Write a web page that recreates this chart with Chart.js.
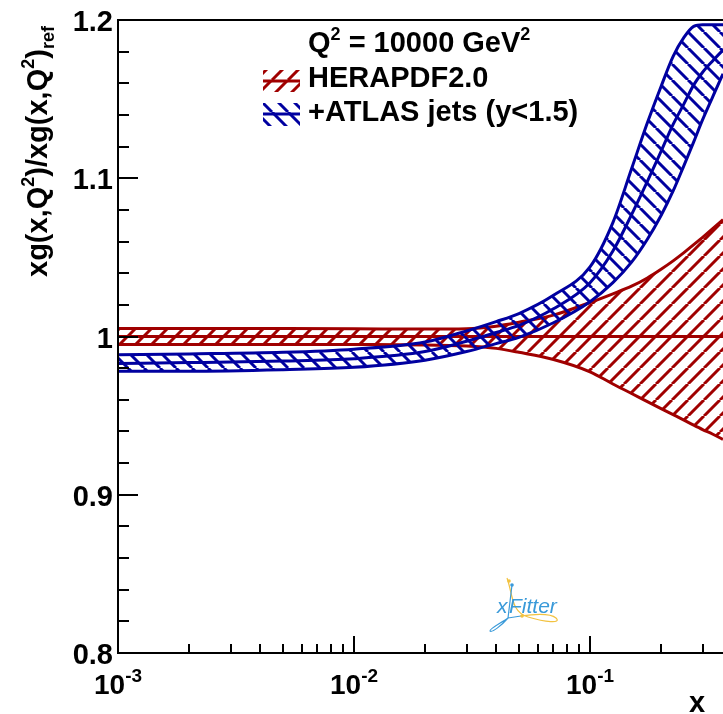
<!DOCTYPE html>
<html>
<head>
<meta charset="utf-8">
<style>
  html, body { margin: 0; padding: 0; background: #ffffff; overflow: hidden; }
  #wrap { width: 723px; height: 714px; }
</style>
<script src="https://cdn.jsdelivr.net/npm/chart.js@4.4.1/dist/chart.umd.min.js"></script>
</head>
<body>
<div id="wrap"><canvas id="pdfRatio"></canvas></div>
<script>
// x grid shared by both bands
const xGrid = [0.001, 0.002, 0.005, 0.01, 0.02, 0.03, 0.04, 0.05, 0.07, 0.1,
               0.125, 0.15, 0.175, 0.2, 0.225, 0.25, 0.275, 0.3, 0.33, 0.366, 0.4]

// HERAPDF2.0 band
const heraUp  = [1.005, 1.005, 1.005, 1.0049, 1.0047, 1.0049, 1.0065, 1.009, 1.0135, 1.0215,
                 1.027, 1.0318, 1.037, 1.0425, 1.0478, 1.053, 1.058, 1.0627, 1.068, 1.0739, 1.079]
const heraLow = [0.995, 0.995, 0.995, 0.9949, 0.9947, 0.994, 0.9925, 0.990, 0.9855, 0.9777,
                 0.970, 0.964, 0.9588, 0.9544, 0.9506, 0.9472, 0.944, 0.9412, 0.9384, 0.935, 0.932]
const heraCentralX = [0.001, 0.4]
const heraCentral  = [1.0, 1.0]

// +ATLAS jets (y<1.5) band
const atlasUp  = [0.9885, 0.989, 0.990, 0.992, 0.9965, 1.0035, 1.0094, 1.0145, 1.026, 1.044,
                  1.072, 1.106, 1.135, 1.158, 1.177, 1.189, 1.196, 1.197, 1.197, 1.197, 1.197]
const atlasMid = [0.983, 0.9835, 0.9845, 0.986, 0.9905, 0.997, 1.0025, 1.007, 1.0175, 1.034,
                  1.054, 1.077, 1.098, 1.117, 1.134, 1.147, 1.159, 1.167, 1.174, 1.181, 1.186]
const atlasLow = [0.978, 0.978, 0.979, 0.9805, 0.985, 0.9905, 0.9955, 0.9995, 1.0087, 1.022,
                  1.034, 1.047, 1.0615, 1.0765, 1.092, 1.108, 1.123, 1.137, 1.151, 1.166, 1.178]

// axis ticks
const yMajor = [0.8, 0.9, 1.0, 1.1, 1.2]
const yLabels = ['0.8', '0.9', '1', '1.1', '1.2']
const xMajor = [0.001, 0.01, 0.1]
const xExp = ['-3', '-2', '-1']

const red = '#a00000'
const blue = '#0000a0'
const fontName = '"Liberation Sans", Arial, sans-serif'

function hatch(color, dir) {
  const p = 16
  const c = document.createElement('canvas')
  c.width = p; c.height = p
  const g = c.getContext('2d')
  g.strokeStyle = color
  g.lineWidth = 3
  g.beginPath()
  for (const k of [-1, 0, 1]) {
    if (dir > 0) { g.moveTo(k * p, p); g.lineTo(k * p + p, 0) }
    else { g.moveTo(k * p, 0); g.lineTo(k * p + p, p) }
  }
  g.stroke()
  return g.createPattern(c, 'repeat')
}
const redHatch = hatch(red, 1)
const blueHatch = hatch(blue, -1)

const pts = (xs, ys) => xs.map((x, i) => ({x: x, y: ys[i]}))

function textRun(ctx, x, y, parts) {
  // parts: [text, size, dy]
  let cx = x
  for (const [t, s, dy] of parts) {
    ctx.font = 'bold ' + s + 'px ' + fontName
    ctx.fillText(t, cx, y + dy)
    cx += ctx.measureText(t).width
  }
}

const rootFrame = {
  id: 'rootFrame',
  afterDraw(chart) {
    const ctx = chart.ctx
    const xs = chart.scales.x, ys = chart.scales.y
    const a = chart.chartArea
    ctx.save()
    ctx.strokeStyle = '#000'
    ctx.fillStyle = '#000'
    ctx.lineWidth = 2
    // frame
    ctx.beginPath()
    ctx.moveTo(a.right + 2, a.top); ctx.lineTo(a.left, a.top)
    ctx.lineTo(a.left, a.bottom); ctx.lineTo(a.right + 2, a.bottom)
    ctx.stroke()
    // y ticks
    ctx.beginPath()
    for (let i = 0; i <= 20; i++) {
      const v = 0.8 + i * 0.02
      const py = Math.round(ys.getPixelForValue(v))
      const len = i % 5 === 0 ? 20 : 11
      ctx.moveTo(a.left, py); ctx.lineTo(a.left + len, py)
    }
    // x ticks
    for (let d = -3; d <= 0; d++) {
      for (let m = 1; m <= 9; m++) {
        const v = m * Math.pow(10, d)
        if (v > xs.max) continue
        const px = Math.round(xs.getPixelForValue(v))
        const len = m === 1 ? 17 : 9
        ctx.moveTo(px, a.bottom); ctx.lineTo(px, a.bottom - len)
      }
    }
    ctx.stroke()
    // y labels
    ctx.font = 'bold 29px ' + fontName
    ctx.textAlign = 'right'
    ctx.textBaseline = 'alphabetic'
    yMajor.forEach((v, i) => {
      ctx.fillText(yLabels[i], 113, ys.getPixelForValue(v) + 11)
    })
    // x labels
    ctx.textAlign = 'left'
    xMajor.forEach((v, i) => {
      const px = xs.getPixelForValue(v)
      ctx.font = 'bold 28px ' + fontName
      const w1 = ctx.measureText('10').width
      ctx.font = 'bold 19px ' + fontName
      const w2 = ctx.measureText(xExp[i]).width
      const x0 = px - (w1 + w2) / 2
      textRun(ctx, x0, 694, [['10', 28, 0], [xExp[i], 19, -12]])
    })
    // x title
    ctx.font = 'bold 29px ' + fontName
    ctx.textAlign = 'center'
    ctx.fillText('x', 697, 712)
    ctx.textAlign = 'left'
    // y title
    ctx.save()
    ctx.translate(47, 277)
    ctx.rotate(-Math.PI / 2)
    textRun(ctx, 0, 0, [['xg(x,Q', 29, 0], ['2', 18, -13], [')/xg(x,Q', 29, 0],
                        ['2', 18, -13], [')', 29, 0], ['ref', 18, 7]])
    ctx.restore()
    // legend
    textRun(ctx, 308, 52, [['Q', 29, 0], ['2', 18, -12], [' = 10000 GeV', 29, 0], ['2', 18, -12]])
    textRun(ctx, 308, 87, [['HERAPDF2.0', 29, 0]])
    textRun(ctx, 308, 121, [['+ATLAS jets (y<1.5)', 29, 0]])
    ctx.fillStyle = redHatch
    ctx.fillRect(263, 70, 37, 22)
    ctx.fillStyle = blueHatch
    ctx.fillRect(263, 103, 37, 23)
    ctx.lineWidth = 3
    ctx.strokeStyle = red
    ctx.beginPath(); ctx.moveTo(263, 81); ctx.lineTo(300, 81); ctx.stroke()
    ctx.strokeStyle = blue
    ctx.beginPath(); ctx.moveTo(263, 114); ctx.lineTo(300, 114); ctx.stroke()
    // xFitter logo
    ctx.lineWidth = 1.2
    ctx.strokeStyle = '#f2c240'
    ctx.beginPath()
    ctx.moveTo(507, 578)
    ctx.bezierCurveTo(513, 595, 511, 612, 528, 617)
    ctx.bezierCurveTo(545, 622, 562, 624, 556, 618)
    ctx.bezierCurveTo(550, 613, 535, 614, 521, 616)
    ctx.stroke()
    ctx.strokeStyle = '#3a9ad9'
    ctx.beginPath()
    ctx.moveTo(512, 585); ctx.lineTo(508, 618)
    ctx.bezierCurveTo(501, 623, 489, 629, 490, 631)
    ctx.bezierCurveTo(492, 633, 502, 625, 508, 618)
    ctx.moveTo(508, 618); ctx.lineTo(521, 616)
    ctx.stroke()
    ctx.fillStyle = '#f2c240'
    ctx.beginPath(); ctx.arc(509, 581, 1.8, 0, 2 * Math.PI); ctx.fill()
    ctx.beginPath(); ctx.arc(522, 616, 1.8, 0, 2 * Math.PI); ctx.fill()
    ctx.fillStyle = '#3a9ad9'
    ctx.beginPath(); ctx.arc(512, 585, 1.8, 0, 2 * Math.PI); ctx.fill()
    ctx.font = 'italic 21px ' + fontName
    ctx.fillText('x', 497, 613)
    ctx.fillText('Fitter', 509, 613)
    ctx.restore()
  }
}

const lineDs = (data, color, fill, bg) => ({
  data: data,
  borderColor: color,
  borderWidth: 3,
  pointRadius: 0,
  cubicInterpolationMode: 'monotone',
  fill: fill,
  backgroundColor: bg || 'rgba(0,0,0,0)'
})

new Chart(document.getElementById('pdfRatio'), {
  type: 'line',
  data: {
    datasets: [
      lineDs(pts(xGrid, atlasUp), blue, 1, blueHatch),
      lineDs(pts(xGrid, atlasLow), blue, false),
      lineDs(pts(xGrid, atlasMid), blue, false),
      lineDs(pts(xGrid, heraUp), red, 4, redHatch),
      lineDs(pts(xGrid, heraLow), red, false),
      lineDs(pts(heraCentralX, heraCentral), red, false)
    ]
  },
  options: {
    responsive: true,
    maintainAspectRatio: false,
    devicePixelRatio: 1,
    animation: false,
    layout: { padding: { left: 118, top: 20, right: 0, bottom: 61 } },
    scales: {
      x: { type: 'logarithmic', min: 0.001, max: 0.366, display: false },
      y: { type: 'linear', min: 0.8, max: 1.2, display: false }
    },
    plugins: { legend: { display: false }, tooltip: { enabled: false } }
  },
  plugins: [rootFrame]
})
</script>
</body>
</html>
